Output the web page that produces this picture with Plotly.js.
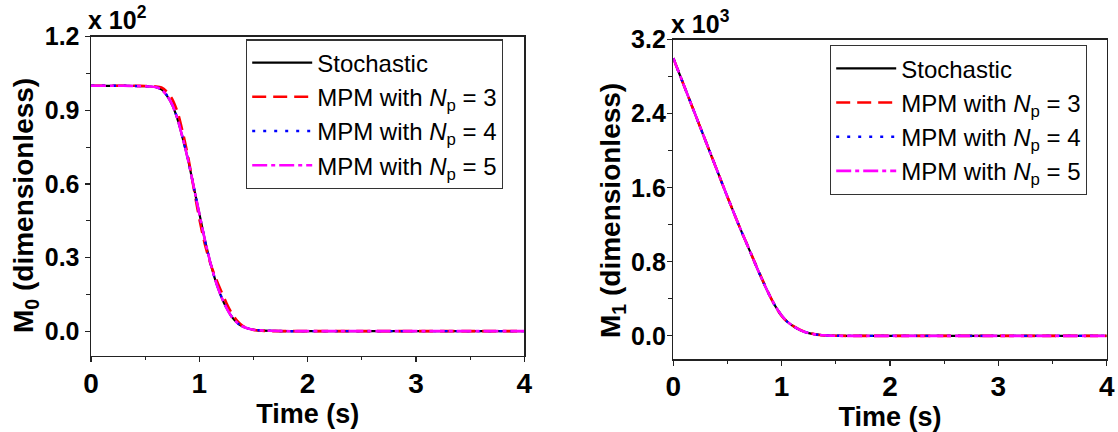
<!DOCTYPE html>
<html>
<head>
<meta charset="utf-8">
<script src="https://cdn.plot.ly/plotly-3.0.1.min.js"></script>
<style>html,body{margin:0;padding:0;background:#fff;}</style>
</head>
<body>
<div id="chart" style="width:1118px;height:432px;"></div>
<script>
// ---- data (values in displayed units: M0 x10^2, M1 x10^3) ----
var time = [0, 0.1, 0.2, 0.3, 0.4, 0.5, 0.55, 0.6, 0.65, 0.7, 0.75, 0.8, 0.85, 0.9, 0.95, 1.0, 1.05, 1.1, 1.15, 1.2, 1.25, 1.3, 1.35, 1.4, 1.45, 1.5, 1.6, 1.7, 1.8, 2.0, 2.5, 3.0, 3.5, 4.0];

var m0Stochastic = [1.0, 1.0, 1.0, 1.0, 0.999, 0.998, 0.997, 0.994, 0.985, 0.96, 0.922, 0.862, 0.78, 0.69, 0.585, 0.48, 0.375, 0.283, 0.205, 0.143, 0.095, 0.058, 0.034, 0.019, 0.011, 0.006, 0.002, 0.001, 0, 0, 0, 0, 0, 0];
var m0Np3 = [1.0, 1.0, 1.0, 1.0, 1.0, 0.999, 0.998, 0.997, 0.993, 0.976, 0.946, 0.892, 0.805, 0.703, 0.578, 0.458, 0.356, 0.278, 0.218, 0.165, 0.115, 0.072, 0.042, 0.022, 0.011, 0.005, 0.001, 0, 0, 0, 0, 0, 0, 0];
var m0Np4 = [1.0, 1.0, 1.0, 1.0, 0.999, 0.998, 0.997, 0.994, 0.986, 0.962, 0.924, 0.864, 0.782, 0.69, 0.584, 0.478, 0.373, 0.282, 0.205, 0.144, 0.096, 0.059, 0.034, 0.019, 0.011, 0.006, 0.002, 0.001, 0, 0, 0, 0, 0, 0];
var m0Np5 = [1.0, 1.0, 1.0, 1.0, 0.999, 0.998, 0.997, 0.994, 0.985, 0.961, 0.923, 0.863, 0.781, 0.69, 0.585, 0.479, 0.374, 0.283, 0.205, 0.143, 0.095, 0.058, 0.034, 0.019, 0.011, 0.006, 0.002, 0.001, 0, 0, 0, 0, 0, 0];

var m1Stochastic = [3.0, 2.70, 2.40, 2.10, 1.80, 1.50, 1.355, 1.21, 1.07, 0.935, 0.795, 0.66, 0.53, 0.41, 0.305, 0.22, 0.155, 0.11, 0.075, 0.048, 0.03, 0.018, 0.01, 0.006, 0.003, 0.001, 0, 0, 0, 0, 0, 0, 0, 0];
var m1Np3 = [3.0, 2.70, 2.40, 2.10, 1.80, 1.50, 1.355, 1.21, 1.072, 0.938, 0.80, 0.665, 0.535, 0.412, 0.302, 0.215, 0.152, 0.11, 0.078, 0.051, 0.032, 0.019, 0.01, 0.005, 0.002, 0.001, 0, 0, 0, 0, 0, 0, 0, 0];
var m1Np4 = [3.0, 2.70, 2.40, 2.10, 1.80, 1.50, 1.355, 1.21, 1.07, 0.935, 0.796, 0.661, 0.531, 0.41, 0.305, 0.219, 0.155, 0.11, 0.075, 0.048, 0.03, 0.018, 0.01, 0.006, 0.003, 0.001, 0, 0, 0, 0, 0, 0, 0, 0];
var m1Np5 = [3.0, 2.70, 2.40, 2.10, 1.80, 1.50, 1.355, 1.21, 1.07, 0.935, 0.795, 0.66, 0.53, 0.41, 0.305, 0.22, 0.155, 0.11, 0.075, 0.048, 0.03, 0.018, 0.01, 0.006, 0.003, 0.001, 0, 0, 0, 0, 0, 0, 0, 0];

var seriesNames = ['Stochastic', 'MPM with <i>N</i><sub>p</sub> = 3', 'MPM with <i>N</i><sub>p</sub> = 4', 'MPM with <i>N</i><sub>p</sub> = 5'];
var xTickVals = [0, 1, 2, 3, 4];
var y0TickVals = [0, 0.3, 0.6, 0.9, 1.2];
var y1TickVals = [0, 0.8, 1.6, 2.4, 3.2];
var xTitle = 'Time (s)';
var y0Title = 'M<sub>0</sub> (dimensionless)';
var y1Title = 'M<sub>1</sub> (dimensionless)';
var y0Scale = 'x 10<sup>2</sup>';
var y1Scale = 'x 10<sup>3</sup>';

// ---- styles ----
var FONT = 'Arial, "Liberation Sans", sans-serif';
var styles = [
  {color: '#000000', width: 2.2, dash: 'solid'},
  {color: '#FF0000', width: 2.6, dash: '14px,7px'},
  {color: '#0000FF', width: 2.4, dash: '3px,8px'},
  {color: '#FF00FF', width: 2.6, dash: '15px,4px,4px,4px'}
];

function mk(y, i, xa, ya, lg) {
  return {
    x: time, y: y, type: 'scatter', mode: 'lines', name: seriesNames[i],
    xaxis: xa, yaxis: ya, legend: lg,
    line: {color: styles[i].color, width: styles[i].width, dash: styles[i].dash, shape: 'spline', smoothing: 0.6}
  };
}

var data = [
  mk(m0Stochastic, 0, 'x', 'y', 'legend'),
  mk(m0Np3, 1, 'x', 'y', 'legend'),
  mk(m0Np4, 2, 'x', 'y', 'legend'),
  mk(m0Np5, 3, 'x', 'y', 'legend'),
  mk(m1Stochastic, 0, 'x2', 'y2', 'legend2'),
  mk(m1Np3, 1, 'x2', 'y2', 'legend2'),
  mk(m1Np4, 2, 'x2', 'y2', 'legend2'),
  mk(m1Np5, 3, 'x2', 'y2', 'legend2')
];

var W = 1118, H = 432;
function px(x) { return x / W; }
function py(y) { return 1 - y / H; }

var axisCommon = {
  showline: true, linecolor: '#222', linewidth: 1.5, mirror: true,
  ticks: 'outside', ticklen: 5, tickwidth: 1.2, tickcolor: '#222',
  showgrid: false, zeroline: false, fixedrange: true
};

function xaxis(domain, anchor) {
  return Object.assign({}, axisCommon, {
    domain: domain, anchor: anchor, range: [0, 4],
    tickvals: xTickVals, ticktext: xTickVals.map(function (v) { return '<b>' + v + '</b>'; }),
    ticklabelstandoff: -3,
    tickfont: {family: FONT, size: 28, color: '#000'},
    minor: {dtick: 0.5, ticks: 'outside', ticklen: 3, tickwidth: 1.2, tickcolor: '#222'},
    title: {text: '<b>' + xTitle + '</b>', font: {family: FONT, size: 27, color: '#000'}, standoff: 6}
  });
}

function yTicks(vals) { return vals.map(function (v) { return '<b>' + v.toFixed(1) + '</b>'; }); }

var layout = {
  width: W, height: H,
  margin: {l: 0, r: 0, t: 0, b: 0},
  paper_bgcolor: '#fff', plot_bgcolor: '#fff',
  showlegend: true,
  xaxis: xaxis([px(91), px(524.3)], 'y'),
  xaxis2: xaxis([px(673.3), px(1106.7)], 'y2'),
  yaxis: Object.assign({}, axisCommon, {
    domain: [py(355.7), py(36.7)], anchor: 'x', range: [-0.1, 1.2],
    tickvals: y0TickVals, ticktext: yTicks(y0TickVals),
    ticklabelstandoff: 0,
    tickfont: {family: FONT, size: 25, color: '#000'},
    minor: {dtick: 0.15, tick0: 0, ticks: 'outside', ticklen: 4, tickwidth: 1.2, tickcolor: '#222'}
  }),
  yaxis2: Object.assign({}, axisCommon, {
    domain: [py(359), py(39.7)], anchor: 'x2', range: [-0.25, 3.2],
    tickvals: y1TickVals, ticktext: yTicks(y1TickVals),
    ticklabelstandoff: -4,
    tickfont: {family: FONT, size: 25, color: '#000'},
    minor: {dtick: 0.4, tick0: 0, ticks: 'outside', ticklen: 4, tickwidth: 1.2, tickcolor: '#222'}
  }),
  legend: {
    x: px(246), y: py(39.3), xanchor: 'left', yanchor: 'top',
    bgcolor: '#fff', bordercolor: '#333', borderwidth: 1.2,
    font: {family: FONT, size: 24, color: '#000'}, itemwidth: 60, tracegroupgap: 0
  },
  legend2: {
    x: px(830), y: py(45), xanchor: 'left', yanchor: 'top',
    bgcolor: '#fff', bordercolor: '#333', borderwidth: 1.2,
    font: {family: FONT, size: 24, color: '#000'}, itemwidth: 60, tracegroupgap: 0
  },
  annotations: [
    {xref: 'paper', yref: 'paper', x: px(25), y: py(206), xanchor: 'center', yanchor: 'middle', showarrow: false,
     textangle: -90, text: '<b>' + y0Title + '</b>', font: {family: FONT, size: 28, color: '#000'}},
    {xref: 'paper', yref: 'paper', x: px(612), y: py(211), xanchor: 'center', yanchor: 'middle', showarrow: false,
     textangle: -90, text: '<b>' + y1Title + '</b>', font: {family: FONT, size: 28, color: '#000'}},
    {xref: 'paper', yref: 'paper', x: px(86), y: py(18), xanchor: 'left', yanchor: 'middle', showarrow: false,
     text: '<b>' + y0Scale + '</b>', font: {family: FONT, size: 25, color: '#000'}},
    {xref: 'paper', yref: 'paper', x: px(669), y: py(22), xanchor: 'left', yanchor: 'middle', showarrow: false,
     text: '<b>' + y1Scale + '</b>', font: {family: FONT, size: 25, color: '#000'}}
  ]
};

Plotly.newPlot('chart', data, layout, {displayModeBar: false, staticPlot: true});
</script>
</body>
</html>
